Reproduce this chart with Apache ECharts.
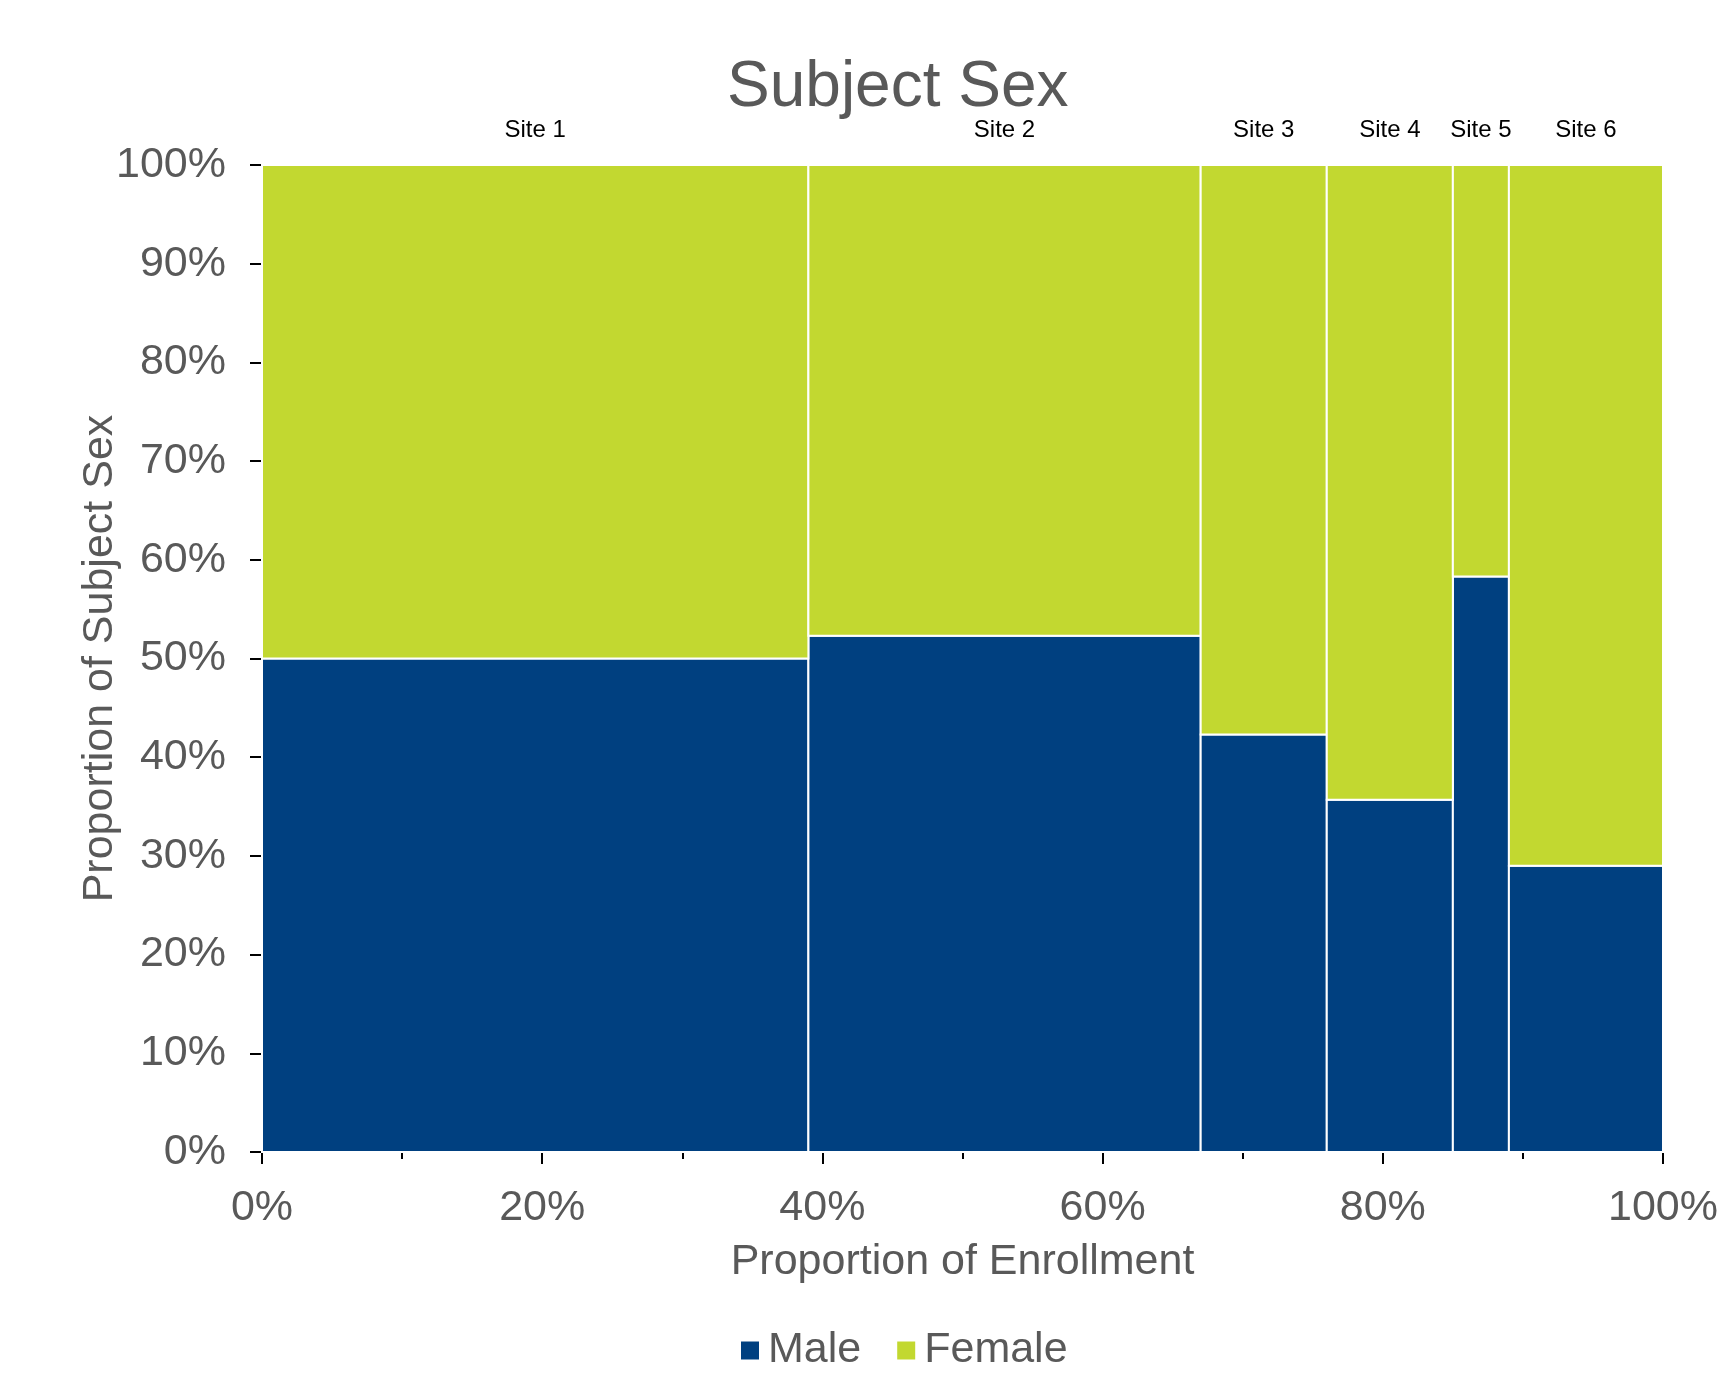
<!DOCTYPE html>
<html>
<head>
<meta charset="utf-8">
<script src="https://cdn.jsdelivr.net/npm/echarts@6/dist/echarts.min.js"></script>
<style>html,body{margin:0;padding:0;background:#fff}#chart{width:1721px;height:1390px}</style>
</head>
<body>
<div id="chart"></div>
<script>
// ---- data ----
const sites = ['Site 1', 'Site 2', 'Site 3', 'Site 4', 'Site 5', 'Site 6'];
const enrollmentShare = [0.39, 0.28, 0.09, 0.09, 0.04, 0.11];   // width of each column
const maleShare = [0.500, 0.523, 0.423, 0.357, 0.583, 0.290];   // proportion male in each site
const seriesNames = ['Male', 'Female'];

// ---- build mosaic cells ----
const maleData = [];
const femaleData = [];
let cum = 0;
sites.forEach((s, i) => {
  const x0 = cum, x1 = cum + enrollmentShare[i];
  maleData.push([x0, x1, 0, maleShare[i], s]);
  femaleData.push([x0, x1, maleShare[i], 1, s]);
  cum = x1;
});

const fontFam = '"Liberation Sans", Arial, sans-serif';
const grey = '#595959';

function makeRender(withLabel) {
  return function (params, api) {
    const tl = api.coord([api.value(0), api.value(3)]);
    const br = api.coord([api.value(1), api.value(2)]);
    const rect = {
      type: 'rect',
      shape: { x: tl[0], y: tl[1], width: br[0] - tl[0], height: br[1] - tl[1] },
      style: { fill: api.visual('color'), stroke: '#ffffff', lineWidth: 2 }
    };
    if (!withLabel) return rect;
    const topY = api.coord([0, 1])[1];
    return {
      type: 'group',
      children: [rect, {
        type: 'text',
        style: {
          text: sites[params.dataIndex],
          x: (tl[0] + br[0]) / 2,
          y: topY - 35,
          align: 'center',
          verticalAlign: 'middle',
          fill: '#000000',
          font: '24px ' + fontFam
        }
      }]
    };
  };
}

const chart = echarts.init(document.getElementById('chart'), null, { renderer: 'canvas' });
chart.setOption({
  animation: false,
  backgroundColor: '#ffffff',
  title: {
    text: 'Subject Sex',
    left: 722,
    top: 51,
    textStyle: { fontFamily: fontFam, fontSize: 64, fontWeight: 'normal', color: grey }
  },
  legend: {
    data: seriesNames,
    left: 736,
    top: 1324,
    icon: 'rect',
    itemWidth: 18,
    itemHeight: 18,
    itemGap: 36,
    textStyle: { fontFamily: fontFam, fontSize: 43, color: grey, padding: [0, 0, 0, 4] }
  },
  grid: { left: 262, right: 56, top: 165, bottom: 238, containLabel: false },
  xAxis: {
    type: 'value',
    min: 0, max: 1, interval: 0.2,
    name: 'Proportion of Enrollment',
    nameLocation: 'middle',
    nameGap: 89,
    nameMoveOverlap: false,
    nameTextStyle: { fontFamily: fontFam, fontSize: 43, color: grey },
    axisLine: { show: true, onZero: false, lineStyle: { color: '#000', width: 1.5 } },
    axisTick: { show: true, length: 12, lineStyle: { color: '#000', width: 2 } },
    minorTick: { show: true, splitNumber: 2, length: 7, lineStyle: { color: '#000', width: 2 } },
    splitLine: { show: false },
    axisLabel: {
      margin: 35,
      fontFamily: fontFam, fontSize: 43, color: grey,
      formatter: v => Math.round(v * 100) + '%'
    }
  },
  yAxis: {
    type: 'value',
    min: 0, max: 1, interval: 0.1,
    name: 'Proportion of Subject Sex',
    nameLocation: 'middle',
    nameGap: 140,
    nameMoveOverlap: false,
    nameTextStyle: { fontFamily: fontFam, fontSize: 43, color: grey },
    axisLine: { show: true, onZero: false, lineStyle: { color: '#000', width: 1.5 } },
    axisTick: { show: true, length: 12, lineStyle: { color: '#000', width: 2 } },
    splitLine: { show: false },
    axisLabel: {
      margin: 36,
      fontFamily: fontFam, fontSize: 43, color: grey,
      formatter: v => Math.round(v * 100) + '%'
    }
  },
  series: [
    {
      name: seriesNames[0],
      type: 'custom',
      itemStyle: { color: '#004080' },
      encode: { x: [0, 1], y: [2, 3] },
      renderItem: makeRender(false),
      data: maleData,
      clip: false
    },
    {
      name: seriesNames[1],
      type: 'custom',
      itemStyle: { color: '#C2D830' },
      encode: { x: [0, 1], y: [2, 3] },
      renderItem: makeRender(true),
      data: femaleData,
      clip: false
    }
  ]
});
</script>
</body>
</html>
